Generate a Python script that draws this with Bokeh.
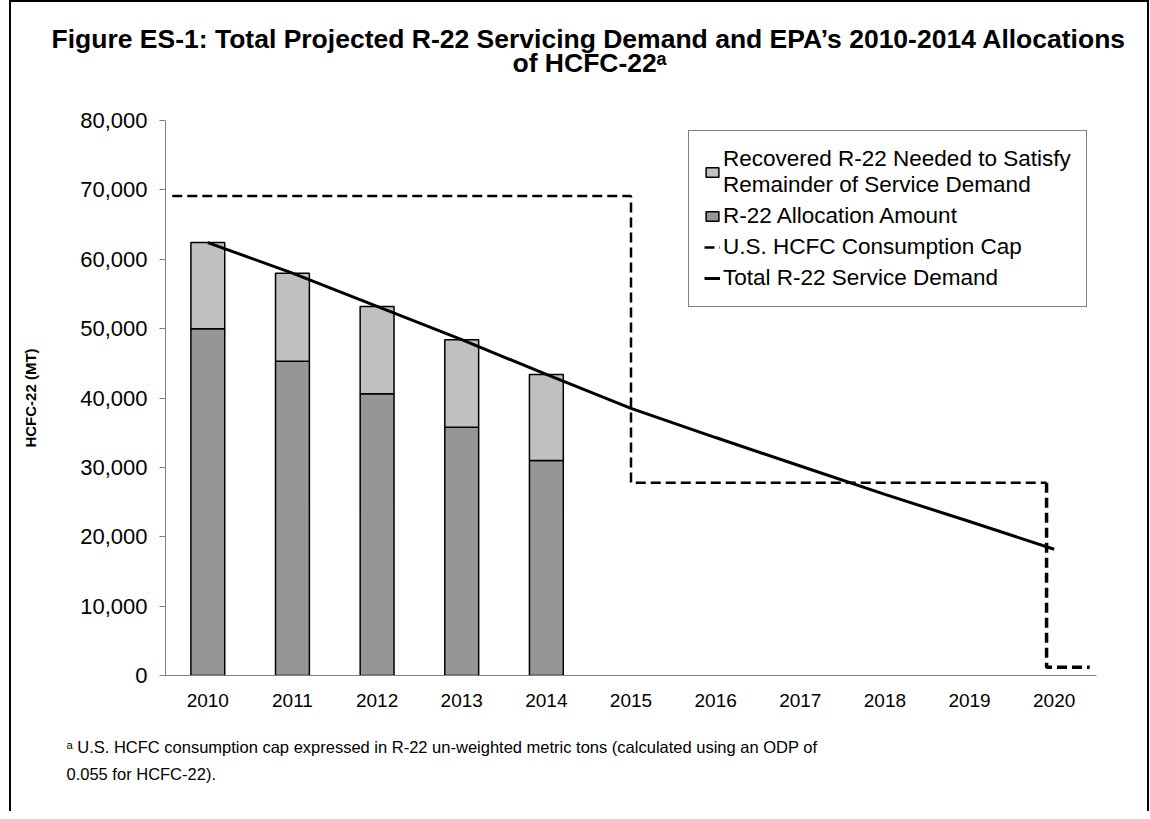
from bokeh.plotting import figure
from bokeh.models import (Range1d, FixedTicker, NumeralTickFormatter, Legend,
                          LegendItem, Title, ColumnDataSource)
from bokeh.embed import file_html
from bokeh.resources import INLINE

# ---- data ----
years = [2010, 2011, 2012, 2013, 2014, 2015, 2016, 2017, 2018, 2019, 2020]
total_demand = [62400, 58000, 53200, 48400, 43400, 38500, 34300, 30200, 26100, 22200, 18200]
bar_years = [2010, 2011, 2012, 2013, 2014]
allocation = [50000, 45300, 40600, 35800, 31000]
bar_demand = [62400, 58000, 53200, 48400, 43400]
cap_x = [2009.58, 2015.0, 2015.0, 2019.91]
cap_y = [69100, 69100, 27800, 27800]
cap_end_x = [2019.91, 2019.91, 2020.42]
cap_end_y = [27800, 1200, 1200]
y_ticks = [0, 10000, 20000, 30000, 40000, 50000, 60000, 70000, 80000]
title_lines = ["Figure ES-1: Total Projected R-22 Servicing Demand and EPA\u2019s 2010-2014 Allocations",
               "of HCFC-22\u1d43"]
footnote = ("\u1d43 U.S. HCFC consumption cap expressed in R-22 un-weighted metric tons (calculated using an ODP of\n"
            "0.055 for HCFC-22).")

FONT = "Liberation Sans"

p = figure(width=1140, height=811, title=None,
           x_range=Range1d(2009.5, 2020.5), y_range=Range1d(0, 80000),
           output_backend="svg", toolbar_location=None,
           min_border_left=154, min_border_right=55,
           min_border_top=118, min_border_bottom=138)
p.styles = {"border-left": "2px solid black", "border-top": "2px solid black",
            "border-right": "2px solid black", "margin-left": "9px"}
p.grid.visible = False
p.outline_line_color = None

spacer = Title(text=" ", text_font_size="1px", standoff=40)
t2 = Title(text=title_lines[1], align="left", text_font=FONT, text_font_size="26.5px",
           text_font_style="bold", text_color="black", offset=347, standoff=0)
t1 = Title(text=title_lines[0], align="left", text_font=FONT, text_font_size="26.5px",
           text_font_style="bold", text_color="black", offset=-114, standoff=0)
try:
    t1.standoff = -16
except Exception:
    t1.standoff = 0
p.add_layout(spacer, "above")
p.add_layout(t2, "above")
p.add_layout(t1, "above")

bsrc = ColumnDataSource(dict(year=bar_years, alloc=allocation, demand=bar_demand))
r_alloc = p.vbar(x="year", width=0.4, bottom=0, top="alloc", source=bsrc,
                 fill_color="#969696", line_color="black", line_width=1.5)
r_rec = p.vbar(x="year", width=0.4, bottom="alloc", top="demand", source=bsrc,
               fill_color="#C0C0C0", line_color="black", line_width=1.5)

r_cap = p.line(cap_x, cap_y, line_color="black", line_width=2.5, line_dash="10 5")
p.line(cap_end_x, cap_end_y, line_color="black", line_width=3.5, line_dash="10 5")
r_dem = p.line(years, total_demand, line_color="black", line_width=3)

# axes
xa = p.xaxis[0]
xa.ticker = FixedTicker(ticks=years)
xa.axis_line_color = "#808080"
xa.major_tick_line_color = None
xa.minor_tick_line_color = None
xa.major_label_text_font = FONT
xa.major_label_text_font_size = "19px"
xa.major_label_text_color = "black"
xa.major_label_standoff = 12

ya = p.yaxis[0]
ya.ticker = FixedTicker(ticks=y_ticks)
ya.formatter = NumeralTickFormatter(format="0,0")
ya.axis_line_color = "#808080"
ya.major_tick_line_color = "#808080"
ya.major_tick_out = 6
ya.major_tick_in = 0
ya.minor_tick_line_color = None
ya.major_label_text_font = FONT
ya.major_label_text_font_size = "22px"
ya.major_label_text_color = "black"
ya.major_label_standoff = 12
ya.axis_label = "HCFC-22 (MT)"
ya.axis_label_text_font = FONT
ya.axis_label_text_font_size = "15px"
ya.axis_label_text_font_style = "bold"
ya.axis_label_text_color = "black"
ya.axis_label_standoff = 38

legend = Legend(items=[
    LegendItem(label="Recovered R-22 Needed to Satisfy\nRemainder of Service Demand", renderers=[r_rec]),
    LegendItem(label="R-22 Allocation Amount", renderers=[r_alloc]),
    LegendItem(label="U.S. HCFC Consumption Cap", renderers=[r_cap]),
    LegendItem(label="Total R-22 Service Demand", renderers=[r_dem]),
], location=(523, 368))
legend.border_line_color = "black"
legend.border_line_width = 1.5
legend.label_text_font = FONT
legend.label_text_font_size = "22.5px"
legend.label_text_color = "black"
legend.label_text_line_height = 1.0
legend.glyph_width = 16
legend.glyph_height = 12
legend.label_standoff = 3
legend.spacing = 5
legend.padding = 15
legend.margin = 0
p.add_layout(legend)

foot = Title(text=footnote, align="left", text_font=FONT, text_font_size="16.5px",
             text_font_style="normal", text_color="black", text_line_height=1.5,
             offset=-99, standoff=52)
p.add_layout(foot, "below")

open("out.html", "w").write(file_html(p, INLINE))
